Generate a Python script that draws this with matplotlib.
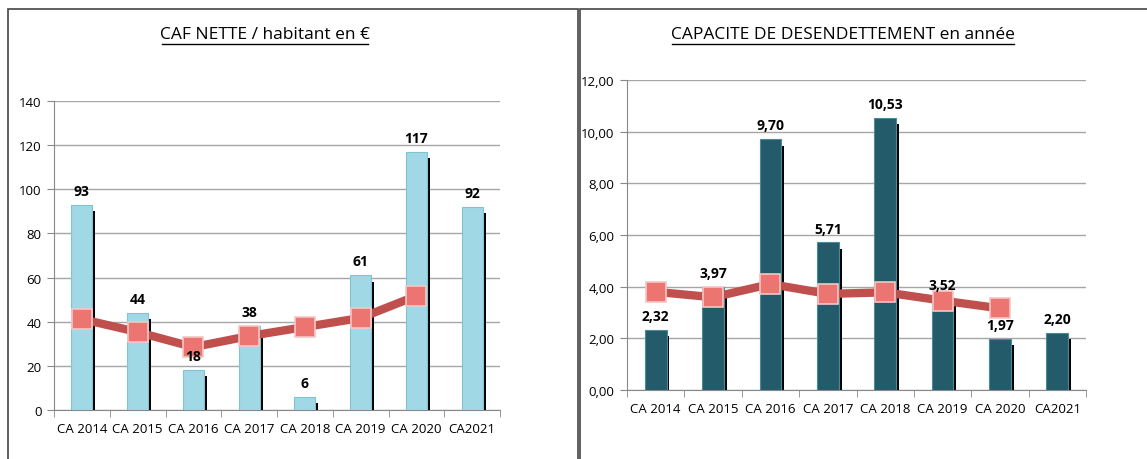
import numpy as np
import matplotlib.pyplot as plt
from matplotlib.patches import Rectangle

plt.rcParams['font.family'] = ['Open Sans', 'DejaVu Sans']

categories = ['CA 2014', 'CA 2015', 'CA 2016', 'CA 2017', 'CA 2018', 'CA 2019', 'CA 2020', 'CA2021']

caf_values = [93, 44, 18, 38, 6, 61, 117, 92]
caf_labels = ['93', '44', '18', '38', '6', '61', '117', '92']
caf_line = [41.2, 35.3, 28.5, 33.5, 37.6, 41.7, 51.7]

desend_values = [2.32, 3.97, 9.70, 5.71, 10.53, 3.52, 1.97, 2.20]
desend_labels = ['2,32', '3,97', '9,70', '5,71', '10,53', '3,52', '1,97', '2,20']
desend_line = [3.80, 3.59, 4.10, 3.72, 3.78, 3.46, 3.16]

fig = plt.figure(figsize=(11.47, 4.6), dpi=100)

# panel borders
fig.patches.append(Rectangle((8 / 1147, -0.05), 570 / 1147, 1 - 10 / 460 + 0.05,
                             transform=fig.transFigure, fill=False, edgecolor='#444444', lw=1.2))
fig.patches.append(Rectangle((580 / 1147, -0.05), 600 / 1147, 1 - 10 / 460 + 0.05,
                             transform=fig.transFigure, fill=False, edgecolor='#444444', lw=1.2))


def draw_panel(ax, values, labels, line_vals, bar_color, edge_color, ymax, step, fmt, title, title_x):
    x = np.arange(len(values))
    w = 0.38
    # shadow
    ax.bar(x + 0.05, [v - ymax * 0.012 for v in values], width=w, bottom=-ymax * 0.008,
           color='black', zorder=2)
    ax.bar(x, values, width=w, color=bar_color, edgecolor=edge_color, linewidth=0.8, zorder=3)
    ax.plot(np.arange(len(line_vals)), line_vals, color='#c0504d', lw=6, zorder=4,
            marker='s', markersize=14, markerfacecolor='#ec7572', markeredgecolor='#f6c6c4',
            markeredgewidth=1.2)
    for xi, v, lab in zip(x, values, labels):
        ax.annotate(lab, (xi, v), xytext=(0, 5), textcoords='offset points', ha='center',
                    va='bottom', fontsize=10, fontweight='bold', zorder=6)
    ax.set_xlim(-0.5, len(values) - 0.5)
    ax.set_ylim(0, ymax)
    ax.set_yticks(np.arange(0, ymax + step / 2, step))
    ax.set_yticklabels([fmt(t) for t in np.arange(0, ymax + step / 2, step)], fontsize=9.5)
    ax.set_xticks(x)
    ax.set_xticklabels(categories, fontsize=9.5)
    ax.set_xticks(np.arange(-0.5, len(values), 1), minor=True)
    ax.tick_params(axis='x', which='major', length=0, pad=9)
    ax.tick_params(axis='x', which='minor', length=5, color='#888888', direction='out')
    ax.tick_params(axis='y', length=5, color='#888888', pad=4)
    ax.grid(axis='y', color='#a6a6a6', lw=1, zorder=0)
    ax.set_axisbelow(True)
    for s in ['top', 'right']:
        ax.spines[s].set_visible(False)
    for s in ['left', 'bottom']:
        ax.spines[s].set_color('#888888')
    t = fig.text(title_x, 1 - 35 / 460, title, ha='center', va='center', fontsize=12.5)
    return t


ax1 = fig.add_axes([54 / 1147, 1 - 411 / 460, 446 / 1147, 309 / 460])
draw_panel(ax1, caf_values, caf_labels, caf_line, '#a0d8e6', '#7fc3d6', 140, 20,
           lambda t: f'{int(t)}', 'CAF NETTE / habitant en €', 265 / 1147)

ax2 = fig.add_axes([627 / 1147, 1 - 391 / 460, 459 / 1147, 310 / 460])
draw_panel(ax2, desend_values, desend_labels, desend_line, '#235b6a', '#4a8a9a', 12, 2,
           lambda t: f'{t:.2f}'.replace('.', ','), 'CAPACITE DE DESENDETTEMENT en année', 843 / 1147)

# title underlines
fig.add_artist(plt.Line2D([162 / 1147, 368 / 1147], [1 - 45 / 460] * 2, color='black', lw=1))
fig.add_artist(plt.Line2D([672 / 1147, 1014 / 1147], [1 - 45 / 460] * 2, color='black', lw=1))

fig.savefig('out.png', dpi=100)
